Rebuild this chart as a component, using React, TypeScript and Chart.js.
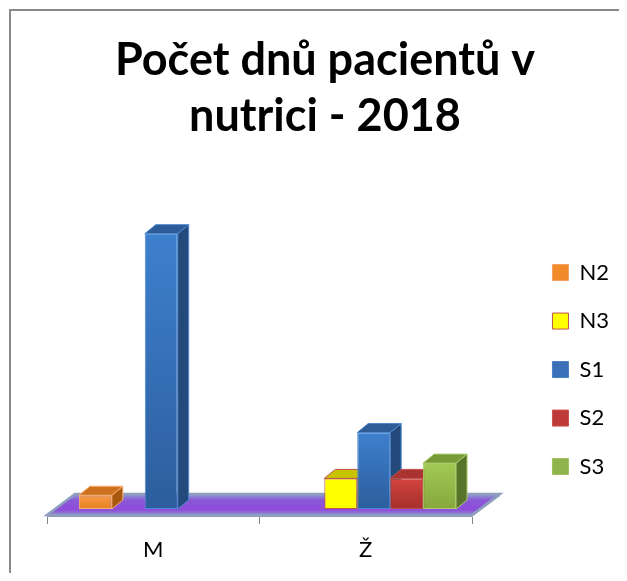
import React, { useEffect, useRef } from "react";
import { Chart, registerables } from "chart.js";

Chart.register(...registerables);

// ---- data ----
const titleLines = ["Počet dnů pacientů v", "nutrici - 2018"];
const categories = ["M", "Ž"];
const seriesNames = ["N2", "N3", "S1", "S2", "S3"];
const n2Values: (number | null)[] = [9, null];
const n3Values: (number | null)[] = [null, 20];
const s1Values: (number | null)[] = [180, 50];
const s2Values: (number | null)[] = [null, 20];
const s3Values: (number | null)[] = [null, 30];
const seriesValues = [n2Values, n3Values, s1Values, s2Values, s3Values];
const yMax = 200;

// ---- styles ----
const frontTop = ["#F89C4C", "#FFFF00", "#3E80CE", "#D4443F", "#A2C955"];
const frontBottom = ["#E57F1E", "#FFFF00", "#2C5E9D", "#A52E2C", "#86A73D"];
const borderColors = ["#FBAF6E", "#C0504D", "#4D88D0", "#C0504D", "#AACC6A"];
const sideColors = ["#A9590F", "#B5B400", "#234A7B", "#781F1D", "#58732A"];
const topColors = ["#CD711F", "#C6C400", "#2E5C96", "#A83331", "#789A38"];
const legendFill = ["#F08A2A", "#FFFF00", "#3A70B8", "#BE3A38", "#8FB44C"];
const legendStroke = ["#F5A060", "#C0504D", "#4A7FC2", "#C8504D", "#9CBF5E"];

const DEPTH_X = 11;
const DEPTH_Y = -9;
const FRONT_X = -8;
const FRONT_Y = 6;
const BACK_X = 20;
const BACK_Y = -15;

const threeD = {
  id: "threeD",
  beforeDatasetsDraw(chart: any) {
    const ctx = chart.ctx as CanvasRenderingContext2D;
    const xs = chart.scales.x;
    const ys = chart.scales.y;
    const base = ys.getPixelForValue(0);
    const l = xs.left;
    const r = xs.right;
    const fl = l + FRONT_X, fr = r + FRONT_X, fy = base + FRONT_Y;
    const bl = l + BACK_X, br = r + BACK_X, by = base + BACK_Y;
    ctx.save();
    // floor slab thickness
    ctx.fillStyle = "#8F9CB8";
    ctx.beginPath();
    ctx.moveTo(fl, fy);
    ctx.lineTo(fr, fy);
    ctx.lineTo(br, by);
    ctx.lineTo(br, by + 2);
    ctx.lineTo(fr, fy + 2);
    ctx.lineTo(fl, fy + 2);
    ctx.closePath();
    ctx.fill();
    // floor top
    const g = ctx.createLinearGradient(0, by, 0, fy);
    g.addColorStop(0, "#8EA0D0");
    g.addColorStop(0.3, "#8A58D6");
    g.addColorStop(0.75, "#8E4CDA");
    g.addColorStop(1, "#8F8CD0");
    ctx.fillStyle = g;
    ctx.beginPath();
    ctx.moveTo(fl, fy);
    ctx.lineTo(fr, fy);
    ctx.lineTo(br, by);
    ctx.lineTo(bl, by);
    ctx.closePath();
    ctx.fill();
    ctx.strokeStyle = "#8E9DC0";
    ctx.lineWidth = 2.5;
    ctx.stroke();
    // category tick marks on the front edge
    ctx.strokeStyle = "#868686";
    ctx.lineWidth = 1;
    for (let i = 0; i <= categories.length; i++) {
      const x = Math.round(xs.getPixelForValue(i - 0.5) + FRONT_X) + 0.5;
      ctx.beginPath();
      ctx.moveTo(x, fy + 2);
      ctx.lineTo(x, fy + 9);
      ctx.stroke();
    }
    // side and top faces of the bars
    chart.data.datasets.forEach((ds: any, di: number) => {
      const meta = chart.getDatasetMeta(di);
      meta.data.forEach((el: any, i: number) => {
        const v = ds.data[i];
        if (v == null) return;
        const { x, y, base: b, width } = el.getProps(["x", "y", "base", "width"], true);
        const left = x - width / 2;
        const right = x + width / 2;
        ctx.lineWidth = 1;
        ctx.strokeStyle = borderColors[di];
        // side
        ctx.fillStyle = sideColors[di];
        ctx.beginPath();
        ctx.moveTo(right, y);
        ctx.lineTo(right + DEPTH_X, y + DEPTH_Y);
        ctx.lineTo(right + DEPTH_X, b + DEPTH_Y);
        ctx.lineTo(right, b);
        ctx.closePath();
        ctx.fill();
        ctx.stroke();
        // top
        ctx.fillStyle = topColors[di];
        ctx.beginPath();
        ctx.moveTo(left, y);
        ctx.lineTo(left + DEPTH_X, y + DEPTH_Y);
        ctx.lineTo(right + DEPTH_X, y + DEPTH_Y);
        ctx.lineTo(right, y);
        ctx.closePath();
        ctx.fill();
        ctx.stroke();
      });
    });
    ctx.restore();
  },
};

export default function App() {
  const ref = useRef<HTMLCanvasElement | null>(null);

  useEffect(() => {
    if (!ref.current) return;
    const datasets = seriesNames.map((name, di) => ({
      label: name,
      data: seriesValues[di],
      backgroundColor: (c: any) => {
        const chart = c.chart;
        if (!chart.chartArea || c.raw == null || !chart.scales.y) return frontTop[di];
        const ys = chart.scales.y;
        const y0 = ys.getPixelForValue(c.raw);
        const y1 = ys.getPixelForValue(0);
        if (!isFinite(y0) || !isFinite(y1) || y0 === y1) return frontTop[di];
        const g = chart.ctx.createLinearGradient(0, y0, 0, y1);
        g.addColorStop(0, frontTop[di]);
        g.addColorStop(1, frontBottom[di]);
        return g;
      },
      borderColor: borderColors[di],
      borderWidth: 1,
      borderSkipped: false,
      categoryPercentage: 0.775,
      barPercentage: 1,
    }));

    const chart = new Chart(ref.current, {
      type: "bar",
      data: { labels: categories, datasets },
      plugins: [threeD],
      options: {
        responsive: false,
        animation: false,
        devicePixelRatio: 1,
        layout: { padding: { left: 20, right: 6, top: 0, bottom: 0 } },
        scales: {
          x: {
            grid: { display: false, drawTicks: false },
            border: { display: false },
            ticks: {
              color: "#000",
              font: { family: "Lato", size: 22 },
              padding: 28,
              labelOffset: -8,
            },
            afterFit: (s: any) => {
              s.height = 64;
            },
          },
          y: {
            position: "left",
            min: 0,
            max: yMax,
            grid: { display: false, drawTicks: false },
            border: { display: false },
            ticks: { display: false },
            afterFit: (s: any) => {
              s.width = 24;
            },
          },
          yR: {
            type: "linear",
            position: "right",
            grid: { display: false, drawTicks: false },
            border: { display: false },
            ticks: { display: false },
            afterFit: (s: any) => {
              s.width = 46;
            },
          },
        } as any,
        plugins: {
          title: {
            display: true,
            text: titleLines,
            color: "#000",
            font: { family: "Lato", size: 45, weight: "bold", lineHeight: 1.245 },
            padding: { top: 21, bottom: 59 },
          },
          legend: {
            position: "right",
            align: "start",
            fullSize: false,
            title: { display: true, text: " ", font: { size: 10 }, padding: 10 },
            labels: {
              boxWidth: 16,
              boxHeight: 16,
              padding: 26.5,
              color: "#000",
              font: { family: "Lato", size: 22 },
              generateLabels: (ch: any) =>
                ch.data.datasets.map((ds: any, i: number) => ({
                  text: ds.label,
                  fillStyle: legendFill[i],
                  strokeStyle: legendStroke[i],
                  lineWidth: 1,
                  hidden: false,
                  datasetIndex: i,
                  fontColor: "#000",
                })),
            },
          },
          tooltip: { enabled: false },
        },
      } as any,
    });
    return () => chart.destroy();
  }, []);

  return (
    <div style={{ paddingLeft: 1, paddingTop: 1 }}>
      <div
        style={{
          borderTop: "2px solid #8A8A8A",
          borderLeft: "2px solid #8A8A8A",
          width: 616,
          height: 562,
          background: "#fff",
        }}
      >
        <canvas ref={ref} width={614} height={562} style={{ display: "block" }} />
      </div>
    </div>
  );
}
